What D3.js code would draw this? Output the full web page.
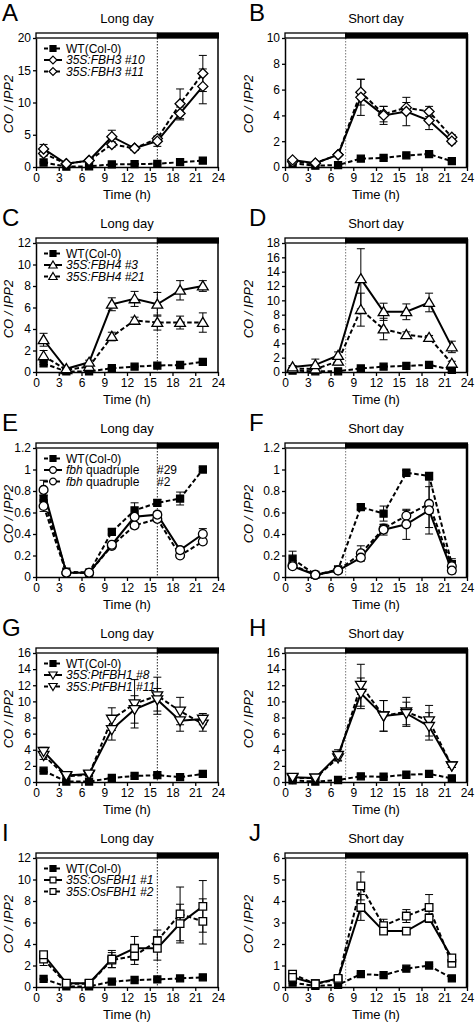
<!DOCTYPE html>
<html><head><meta charset="utf-8">
<script src="https://cdn.jsdelivr.net/npm/d3@7"></script>
<style>
body{margin:0;background:#fff}
svg{display:block}
text{font-family:"Liberation Sans",Arial,Helvetica,sans-serif;fill:#000}
</style>
</head><body>
<svg id="c" width="475" height="1023"></svg>
<script>
const time = [1,4,7,10,13,16,19,22];
const xTicks = [0,3,6,9,12,15,18,21,24];

// Panel A (long day)
const A_yTicks = [0,5,10,15,20];
const A_wt = [0.7,0.05,0.1,0.4,0.45,0.5,0.75,1.0];
const A_wtErr = [0.1,0.02,0.05,0.1,0.1,0.1,0.1,0.1];
const A_l1 = [2.8,0.5,1.0,4.7,2.9,4.0,8.3,12.5];
const A_l1Err = [0.7,0.1,0.2,1.0,0.3,0.8,1.0,2.7];
const A_l2 = [2.1,0.5,1.0,3.5,2.9,4.4,9.8,14.5];
const A_l2Err = [0.4,0.1,0.2,0.4,0.3,0.3,2.3,2.8];
const A_labels = ["WT(Col-0)","35S:FBH3 #10","35S:FBH3 #11"];

// Panel B (short day)
const B_yTicks = [0,2,4,6,8,10];
const B_wt = [0.3,0.1,0.15,0.65,0.7,0.9,1.0,0.45];
const B_wtErr = [0.05,0.02,0.03,0.05,0.05,0.05,0.05,0.05];
const B_l1 = [0.55,0.3,0.95,5.4,4.0,4.3,3.6,2.0];
const B_l1Err = [0.1,0.1,0.1,1.4,0.7,1.1,0.7,0.2];
const B_l2 = [0.4,0.3,0.95,5.8,4.1,4.6,4.3,2.3];
const B_l2Err = [0.1,0.1,0.1,1.0,0.6,0.4,0.4,0.2];

// Panel C (long day)
const C_yTicks = [0,2,4,6,8,10,12];
const C_wt = [0.8,0.05,0.05,0.35,0.5,0.6,0.65,0.95];
const C_wtErr = [0.1,0.02,0.02,0.05,0.05,0.05,0.05,0.05];
const C_l1 = [3.0,0.3,0.9,6.3,6.8,6.3,7.6,8.0];
const C_l1Err = [0.6,0.1,0.2,0.6,0.7,1.1,0.9,0.5];
const C_l2 = [1.5,0.2,0.5,3.3,4.8,4.6,4.6,4.6];
const C_l2Err = [0.5,0.1,0.1,0.4,0.3,0.7,0.6,0.9];
const C_labels = ["WT(Col-0)","35S:FBH4 #3","35S:FBH4 #21"];

// Panel D (short day)
const D_yTicks = [0,2,4,6,8,10,12,14,16,18];
const D_wt = [0.2,0.1,0.1,0.5,0.75,0.85,1.0,0.3];
const D_wtErr = [0.05,0.02,0.02,0.05,0.05,0.05,0.05,0.05];
const D_l1 = [0.7,1.0,2.3,13.0,8.4,8.4,9.7,3.5];
const D_l1Err = [0.2,0.8,0.5,4.2,1.2,1.1,1.3,0.8];
const D_l2 = [0.5,0.4,1.5,8.7,6.0,5.2,4.8,1.2];
const D_l2Err = [0.1,0.2,0.5,2.3,1.5,0.4,0.3,0.3];

// Panel E (long day)
const E_yTicks = [0,0.2,0.4,0.6,0.8,1,1.2];
const E_wt = [0.73,0.05,0.04,0.42,0.62,0.69,0.73,1.0];
const E_wtErr = [0.03,0.01,0.01,0.02,0.07,0.03,0.06,0.02];
const E_l1 = [0.81,0.04,0.04,0.30,0.56,0.58,0.25,0.40];
const E_l1Err = [0.09,0.01,0.01,0.02,0.02,0.03,0.03,0.05];
const E_l2 = [0.66,0.04,0.04,0.29,0.48,0.54,0.20,0.33];
const E_l2Err = [0.05,0.01,0.01,0.02,0.02,0.02,0.02,0.02];
const E_labels = ["WT(Col-0)","fbh quadruple|#29","fbh quadruple|#2"];

// Panel F (short day)
const F_yTicks = [0,0.2,0.4,0.6,0.8,1,1.2];
const F_wt = [0.17,0.02,0.07,0.65,0.59,0.97,0.94,0.12];
const F_wtErr = [0.07,0.01,0.01,0.02,0.07,0.02,0.03,0.05];
const F_l1 = [0.10,0.02,0.06,0.18,0.44,0.49,0.62,0.06];
const F_l1Err = [0.02,0.01,0.01,0.03,0.05,0.14,0.22,0.03];
const F_l2 = [0.11,0.02,0.06,0.22,0.45,0.57,0.68,0.10];
const F_l2Err = [0.02,0.01,0.01,0.07,0.04,0.05,0.22,0.04];

// Panel G (long day)
const G_yTicks = [0,2,4,6,8,10,12,14,16];
const G_wt = [1.4,0.05,0.05,0.5,0.75,0.85,0.6,1.0];
const G_wtErr = [0.1,0.02,0.02,0.05,0.05,0.05,0.05,0.05];
const G_l1 = [3.8,0.8,1.0,6.5,9.0,10.2,7.6,7.8];
const G_l1Err = [0.5,0.1,0.2,1.3,1.7,1.4,1.3,0.7];
const G_l2 = [3.3,0.7,0.9,7.8,9.7,10.7,8.8,7.2];
const G_l2Err = [0.5,0.1,0.2,1.4,3.0,2.3,1.7,0.9];
const G_labels = ["WT(Col-0)","35S:PtFBH1 #8","35S:PtFBH1 #11"];

// Panel H (short day)
const H_yTicks = [0,2,4,6,8,10,12,14,16];
const H_wt = [0.2,0.05,0.25,0.7,0.65,0.9,1.0,0.45];
const H_wtErr = [0.05,0.02,0.05,0.05,0.05,0.05,0.05,0.05];
const H_l1 = [0.6,0.5,3.3,11.0,8.2,8.5,6.9,2.0];
const H_l1Err = [0.1,0.1,0.7,1.9,1.9,1.4,1.7,0.2];
const H_l2 = [0.5,0.5,3.0,12.0,8.2,8.7,7.6,2.0];
const H_l2Err = [0.1,0.1,0.3,2.6,1.9,1.8,1.9,0.2];

// Panel I (long day)
const I_yTicks = [0,2,4,6,8,10,12];
const I_wt = [0.75,0.05,0.05,0.5,0.65,0.7,0.8,0.9];
const I_wtErr = [0.05,0.02,0.02,0.05,0.05,0.05,0.05,0.05];
const I_l1 = [3.0,0.35,0.35,2.6,3.6,3.6,5.9,7.5];
const I_l1Err = [0.3,0.1,0.1,0.8,1.1,1.1,1.8,2.4];
const I_l2 = [2.6,0.3,0.3,2.5,2.9,4.3,6.8,6.1];
const I_l2Err = [0.6,0.1,0.1,0.7,0.8,1.0,2.5,2.1];
const I_labels = ["WT(Col-0)","35S:OsFBH1 #1","35S:OsFBH1 #2"];

// Panel J (short day)
const J_yTicks = [0,1,2,3,4,5,6];
const J_wt = [0.2,0.05,0.1,0.6,0.55,0.85,1.0,0.4];
const J_wtErr = [0.03,0.01,0.02,0.04,0.04,0.04,0.04,0.03];
const J_l1 = [0.45,0.15,0.4,3.7,2.6,2.6,3.2,1.35];
const J_l1Err = [0.05,0.05,0.05,0.6,0.1,0.1,0.2,0.1];
const J_l2 = [0.6,0.15,0.35,4.7,2.85,3.3,3.7,1.1];
const J_l2Err = [0.05,0.05,0.05,0.65,0.3,0.3,0.6,0.1];

const LD = "Long day", SD = "Short day";
const panels = [
  {id:"A",row:0,col:0,title:LD,light:16,yTicks:A_yTicks,marker:"diamond",wt:A_wt,wtErr:A_wtErr,l1:A_l1,l1Err:A_l1Err,l2:A_l2,l2Err:A_l2Err,labels:A_labels},
  {id:"B",row:0,col:1,title:SD,light:8,yTicks:B_yTicks,marker:"diamond",wt:B_wt,wtErr:B_wtErr,l1:B_l1,l1Err:B_l1Err,l2:B_l2,l2Err:B_l2Err},
  {id:"C",row:1,col:0,title:LD,light:16,yTicks:C_yTicks,marker:"triUp",wt:C_wt,wtErr:C_wtErr,l1:C_l1,l1Err:C_l1Err,l2:C_l2,l2Err:C_l2Err,labels:C_labels},
  {id:"D",row:1,col:1,title:SD,light:8,yTicks:D_yTicks,marker:"triUp",wt:D_wt,wtErr:D_wtErr,l1:D_l1,l1Err:D_l1Err,l2:D_l2,l2Err:D_l2Err},
  {id:"E",row:2,col:0,title:LD,light:16,yTicks:E_yTicks,marker:"circle",wt:E_wt,wtErr:E_wtErr,l1:E_l1,l1Err:E_l1Err,l2:E_l2,l2Err:E_l2Err,labels:E_labels},
  {id:"F",row:2,col:1,title:SD,light:8,yTicks:F_yTicks,marker:"circle",wt:F_wt,wtErr:F_wtErr,l1:F_l1,l1Err:F_l1Err,l2:F_l2,l2Err:F_l2Err},
  {id:"G",row:3,col:0,title:LD,light:16,yTicks:G_yTicks,marker:"triDown",wt:G_wt,wtErr:G_wtErr,l1:G_l1,l1Err:G_l1Err,l2:G_l2,l2Err:G_l2Err,labels:G_labels},
  {id:"H",row:3,col:1,title:SD,light:8,yTicks:H_yTicks,marker:"triDown",wt:H_wt,wtErr:H_wtErr,l1:H_l1,l1Err:H_l1Err,l2:H_l2,l2Err:H_l2Err},
  {id:"I",row:4,col:0,title:LD,light:16,yTicks:I_yTicks,marker:"square",wt:I_wt,wtErr:I_wtErr,l1:I_l1,l1Err:I_l1Err,l2:I_l2,l2Err:I_l2Err,labels:I_labels},
  {id:"J",row:4,col:1,title:SD,light:8,yTicks:J_yTicks,marker:"square",wt:J_wt,wtErr:J_wtErr,l1:J_l1,l1Err:J_l1Err,l2:J_l2,l2Err:J_l2Err}
];

const markerSize = {square:3.8, diamond:4.2, triUp:4.3, triDown:4.3, circle:4.4};
function markerPath(type, s){
  switch(type){
    case "square": return `M${-s},${-s}H${s}V${s}H${-s}Z`;
    case "diamond": return `M0,${-s*1.2}L${s*1.2},0L0,${s*1.2}L${-s*1.2},0Z`;
    case "triUp": return `M0,${-s*1.2}L${s*1.25},${s*0.9}L${-s*1.25},${s*0.9}Z`;
    case "triDown": return `M0,${s*1.2}L${s*1.25},${-s*0.9}L${-s*1.25},${-s*0.9}Z`;
    case "circle": return `M${s},0A${s},${s} 0 1,1 ${-s},0A${s},${s} 0 1,1 ${s},0Z`;
  }
}

const svg = d3.select("#c");
const DASH = "4.5,2.5";

panels.forEach(p => {
  const yOff = p.row*205;
  const x0 = p.col===0 ? 36 : 285, x1 = p.col===0 ? 218 : 467;
  const yTop = 38 + yOff, yBot = 167 + yOff;
  const ymax = p.yTicks[p.yTicks.length-1];
  const x = d3.scaleLinear().domain([0,24]).range([x0,x1]);
  const y = d3.scaleLinear().domain([0,ymax]).range([yBot,yTop]);
  const g = svg.append("g");

  // panel letter
  g.append("text").attr("x", p.col===0 ? 2 : 249).attr("y", yOff+21)
    .attr("font-size", 24).text(p.id);
  // title
  g.append("text").attr("x", (x0+x1)/2).attr("y", yOff+23)
    .attr("text-anchor","middle").attr("font-size",13).text(p.title);

  // dotted light/dark boundary
  g.append("line").attr("x1",x(p.light)).attr("x2",x(p.light))
    .attr("y1",yTop).attr("y2",yBot)
    .attr("stroke", p.col===0 ? "#222" : "#777").attr("stroke-width",1)
    .attr("stroke-dasharray","1.5,1.5");

  // right border
  g.append("line").attr("x1",x1).attr("x2",x1).attr("y1",yTop-4).attr("y2",yBot)
    .attr("stroke","#000").attr("stroke-width", p.col===0 ? 1.5 : 2.5);

  // axes
  const ya = g.append("g").attr("transform",`translate(${x0},0)`)
    .call(d3.axisLeft(y).tickValues(p.yTicks).tickSize(3).tickSizeOuter(0).tickPadding(2)
      .tickFormat(d3.format("~g")));
  const xa = g.append("g").attr("transform",`translate(0,${yBot})`)
    .call(d3.axisBottom(x).tickValues(xTicks).tickSize(4).tickSizeOuter(0).tickPadding(2));
  [ya,xa].forEach(a => {
    a.selectAll("path.domain").attr("stroke","#000").attr("stroke-width",1.5);
    a.selectAll(".tick line").attr("stroke","#000").attr("stroke-width",1.3);
    a.selectAll(".tick text").attr("font-size",12).attr("fill","#000")
      .attr("font-family",'"Liberation Sans",Arial,Helvetica,sans-serif');
  });

  // day/night bar
  g.append("rect").attr("x",x(0)).attr("y",yTop-5).attr("width",x(p.light)-x(0)).attr("height",5)
    .attr("fill","#fff").attr("stroke","#000").attr("stroke-width",1.3);
  g.append("rect").attr("x",x(p.light)).attr("y",yTop-5.65).attr("width",x(24)-x(p.light)+1).attr("height",6.3)
    .attr("fill","#000");

  // axis labels
  g.append("text").attr("x",(x0+x1)/2).attr("y",yOff+199).attr("text-anchor","middle")
    .attr("font-size",13).text("Time (h)");
  const yl = g.append("text").attr("transform",`translate(${p.col===0?13:253},${yOff+104}) rotate(-90)`)
    .attr("text-anchor","middle").attr("font-size",13).attr("font-style","italic");
  yl.text("CO / IPP2");

  const line = d3.line().x((d,i)=>x(time[i])).y(d=>y(d));
  const series = [
    {v:p.wt, e:p.wtErr, dash:true, marker:"square", filled:true, s:3.5},
    {v:p.l2, e:p.l2Err, dash:true, marker:p.marker, filled:false, s:markerSize[p.marker]},
    {v:p.l1, e:p.l1Err, dash:false, marker:p.marker, filled:false, s:markerSize[p.marker]}
  ];
  series.forEach(s => {
    g.append("path").attr("d", line(s.v)).attr("fill","none").attr("stroke","#000")
      .attr("stroke-width",2).attr("stroke-dasharray", s.dash ? DASH : null);
  });
  series.forEach(s => {
    s.v.forEach((v,i) => {
      const lo = y(Math.max(0, v - s.e[i])), hi = y(v + s.e[i]), cx = x(time[i]);
      const eg = g.append("g").attr("stroke","#000").attr("stroke-width",1);
      eg.append("line").attr("x1",cx).attr("x2",cx).attr("y1",lo).attr("y2",hi);
      eg.append("line").attr("x1",cx-4).attr("x2",cx+4).attr("y1",hi).attr("y2",hi);
      eg.append("line").attr("x1",cx-4).attr("x2",cx+4).attr("y1",lo).attr("y2",lo);
    });
  });
  series.forEach(s => {
    g.selectAll(null).data(s.v).join("path")
      .attr("transform",(d,i)=>`translate(${x(time[i])},${y(d)})`)
      .attr("d", markerPath(s.marker, s.s))
      .attr("fill", s.filled ? "#000" : "#fff").attr("stroke","#000").attr("stroke-width",1.3);
  });

  // legend
  if (p.labels) {
    const lg = g.append("g");
    const legendStyles = [
      {dash:true, marker:"square", filled:true, s:3},
      {dash:false, marker:p.marker, filled:false, s:markerSize[p.marker]*0.78},
      {dash:true, marker:p.marker, filled:false, s:markerSize[p.marker]*0.78}
    ];
    p.labels.forEach((lab,i) => {
      const ly = yOff + 48.5 + i*11.5;
      const st = legendStyles[i];
      lg.append("line").attr("x1",x0+8).attr("x2",x0+26).attr("y1",ly).attr("y2",ly)
        .attr("stroke","#000").attr("stroke-width",2).attr("stroke-dasharray", st.dash ? "4,2" : null);
      lg.append("path").attr("transform",`translate(${x0+17},${ly})`).attr("d",markerPath(st.marker, st.s))
        .attr("fill", st.filled ? "#000" : "#fff").attr("stroke","#000").attr("stroke-width",1.2);
      const t = lg.append("text").attr("x",x0+30).attr("y",ly+4.2).attr("font-size",12);
      if (i===0) t.text(lab);
      else if (lab.indexOf("|")>=0) {
        const parts = lab.split("|");
        const w = parts[0].split(" ");
        t.append("tspan").attr("font-style","italic").text(w[0]);
        t.append("tspan").text(" " + w.slice(1).join(" "));
        lg.append("text").attr("x",x0+121).attr("y",ly+4.2).attr("font-size",12).text(parts[1]);
      } else {
        t.attr("font-style","italic").text(lab);
      }
    });
  }
});
</script>
</body></html>
